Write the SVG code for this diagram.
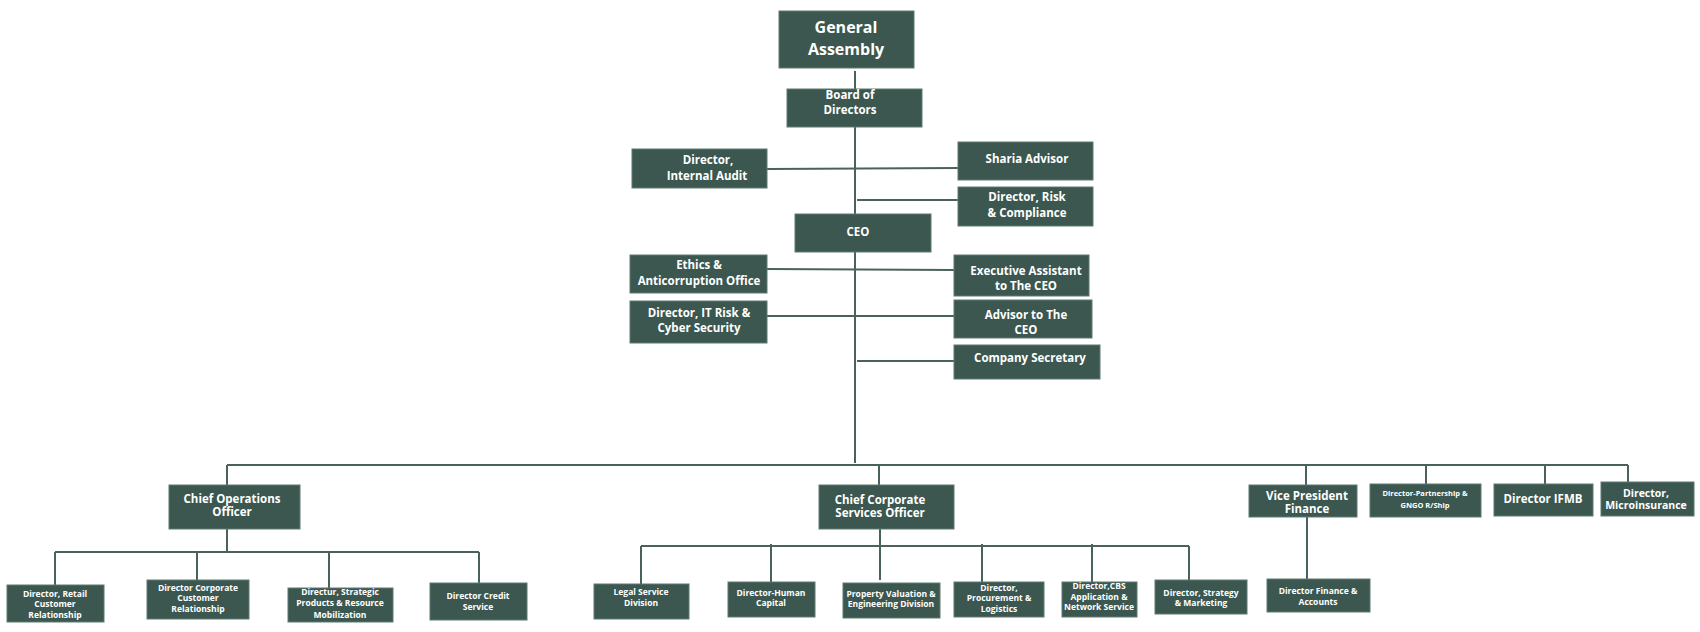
<svg xmlns="http://www.w3.org/2000/svg" width="1700" height="632" viewBox="0 0 1700 632">
<style>
rect{fill:#3b5750;stroke:#5f7a73;stroke-width:1}
text{fill:#fff;font-family:"Open Sans","Liberation Sans",sans-serif;font-weight:700;text-anchor:middle;dominant-baseline:middle}
.l{font-size:16px}.m{font-size:11.5px}.s{font-size:8.5px}.xs{font-size:7.5px}
#connectors line{stroke:#4a625c;stroke-width:2}
</style>
<rect x="0" y="0" width="1700" height="632" style="fill:#fff;stroke:none"/>
<g id="connectors">
<line x1="855" y1="71" x2="855" y2="89"/>
<line x1="855" y1="127" x2="855" y2="463"/>
<line x1="767" y1="169" x2="958" y2="168"/>
<line x1="857" y1="200" x2="958" y2="200"/>
<line x1="767" y1="269" x2="954" y2="270"/>
<line x1="767" y1="316" x2="954" y2="316"/>
<line x1="857" y1="361" x2="954" y2="361"/>
<line x1="227" y1="465" x2="1628" y2="465"/>
<line x1="227" y1="465" x2="227" y2="485"/>
<line x1="879" y1="465" x2="879" y2="485"/>
<line x1="1306" y1="465" x2="1306" y2="485"/>
<line x1="1426" y1="465" x2="1426" y2="484"/>
<line x1="1545" y1="465" x2="1545" y2="484"/>
<line x1="1628" y1="465" x2="1628" y2="482"/>
<line x1="227" y1="529" x2="227" y2="552"/>
<line x1="55" y1="552" x2="479" y2="552"/>
<line x1="55" y1="552" x2="55" y2="585"/>
<line x1="197" y1="552" x2="197" y2="580"/>
<line x1="329" y1="552" x2="329" y2="588"/>
<line x1="479" y1="552" x2="479" y2="583"/>
<line x1="880" y1="529" x2="880" y2="580"/>
<line x1="641" y1="546" x2="1189" y2="546"/>
<line x1="641" y1="546" x2="641" y2="584"/>
<line x1="771" y1="544" x2="771" y2="582"/>
<line x1="982" y1="544" x2="982" y2="582"/>
<line x1="1092" y1="544" x2="1092" y2="582"/>
<line x1="1189" y1="546" x2="1189" y2="580"/>
<line x1="1307" y1="517" x2="1307" y2="579"/>
</g>
<g id="ga"><rect x="779" y="11" width="135" height="57"/><text class="l" x="846" y="29">General</text><text class="l" x="846" y="51">Assembly</text></g>
<g id="board"><rect x="787" y="89" width="135" height="38"/><text class="m" x="850" y="96">Board of</text><text class="m" x="850" y="111">Directors</text></g>
<g id="audit"><rect x="632" y="149" width="135" height="39"/><text class="m" x="708" y="161">Director,</text><text class="m" x="707" y="177">Internal Audit</text></g>
<g id="sharia"><rect x="958" y="142" width="135" height="38"/><text class="m" x="1027" y="160">Sharia Advisor</text></g>
<g id="risk"><rect x="958" y="187" width="135" height="39"/><text class="m" x="1027" y="198">Director, Risk</text><text class="m" x="1027" y="214">&amp; Compliance</text></g>
<g id="ceo"><rect x="795" y="214" width="136" height="38"/><text class="m" x="858" y="233">CEO</text></g>
<g id="ethics"><rect x="630" y="255" width="137" height="38"/><text class="m" x="699" y="266">Ethics &amp;</text><text class="m" x="699" y="282">Anticorruption Office</text></g>
<g id="exec"><rect x="954" y="255" width="135" height="41"/><text class="m" x="1026" y="272">Executive Assistant</text><text class="m" x="1026" y="287">to The CEO</text></g>
<g id="itrisk"><rect x="630" y="301" width="137" height="42"/><text class="m" x="699" y="314">Director, IT Risk &amp;</text><text class="m" x="699" y="329">Cyber Security</text></g>
<g id="advisor"><rect x="954" y="300" width="138" height="38"/><text class="m" x="1026" y="316">Advisor to The</text><text class="m" x="1026" y="331">CEO</text></g>
<g id="secretary"><rect x="954" y="345" width="146" height="34"/><text class="m" x="1030" y="359">Company Secretary</text></g>
<g id="coo"><rect x="169" y="485" width="131" height="44"/><text class="m" x="232" y="500">Chief Operations</text><text class="m" x="232" y="513">Officer</text></g>
<g id="ccso"><rect x="819" y="485" width="135" height="44"/><text class="m" x="880" y="501">Chief Corporate</text><text class="m" x="880" y="514">Services Officer</text></g>
<g id="vp"><rect x="1249" y="485" width="108" height="32"/><text class="m" x="1307" y="497">Vice President</text><text class="m" x="1307" y="510">Finance</text></g>
<g id="partner"><rect x="1370" y="484" width="111" height="33"/><text class="xs" x="1425" y="494">Director-Partnership &amp;</text><text class="xs" x="1425" y="506">GNGO R/Ship</text></g>
<g id="ifmb"><rect x="1494" y="484" width="99" height="32"/><text class="m" x="1543" y="500">Director IFMB</text></g>
<g id="micro"><rect x="1601" y="482" width="93" height="34"/><text class="m" x="1646" y="494" style="font-size:10.5px">Director,</text><text class="m" x="1646" y="506" style="font-size:10.5px">Microinsurance</text></g>
<g id="retail"><rect x="7" y="585" width="97" height="37"/><text class="s" x="55" y="595">Director, Retail</text><text class="s" x="55" y="605">Customer</text><text class="s" x="55" y="616">Relationship</text></g>
<g id="corporate"><rect x="147" y="580" width="102" height="39"/><text class="s" x="198" y="589">Director Corporate</text><text class="s" x="198" y="599">Customer</text><text class="s" x="198" y="610">Relationship</text></g>
<g id="strategic"><rect x="288" y="588" width="105" height="34"/><text class="s" x="340" y="593">Directur, Strategic</text><text class="s" x="340" y="604">Products &amp; Resource</text><text class="s" x="340" y="616">Mobilization</text></g>
<g id="credit"><rect x="430" y="583" width="97" height="37"/><text class="s" x="478" y="597">Director Credit</text><text class="s" x="478" y="608">Service</text></g>
<g id="legal"><rect x="594" y="584" width="95" height="35"/><text class="s" x="641" y="593">Legal Service</text><text class="s" x="641" y="604">Division</text></g>
<g id="hr"><rect x="728" y="582" width="87" height="35"/><text class="s" x="771" y="594">Director-Human</text><text class="s" x="771" y="604">Capital</text></g>
<g id="property"><rect x="843" y="583" width="97" height="35"/><text class="s" x="891" y="595">Property Valuation &amp;</text><text class="s" x="891" y="605">Engineering Division</text></g>
<g id="procurement"><rect x="954" y="582" width="90" height="35"/><text class="s" x="999" y="589">Director,</text><text class="s" x="999" y="599">Procurement &amp;</text><text class="s" x="999" y="610">Logistics</text></g>
<g id="cbs"><rect x="1062" y="582" width="75" height="35"/><text class="s" x="1099" y="587">Director,CBS</text><text class="s" x="1099" y="598">Application &amp;</text><text class="s" x="1099" y="608">Network Service</text></g>
<g id="strategy"><rect x="1155" y="580" width="92" height="34"/><text class="s" x="1201" y="594">Director, Strategy</text><text class="s" x="1201" y="604">&amp; Marketing</text></g>
<g id="finance"><rect x="1267" y="579" width="103" height="33"/><text class="s" x="1318" y="592">Director Finance &amp;</text><text class="s" x="1318" y="603">Accounts</text></g>
</svg>
